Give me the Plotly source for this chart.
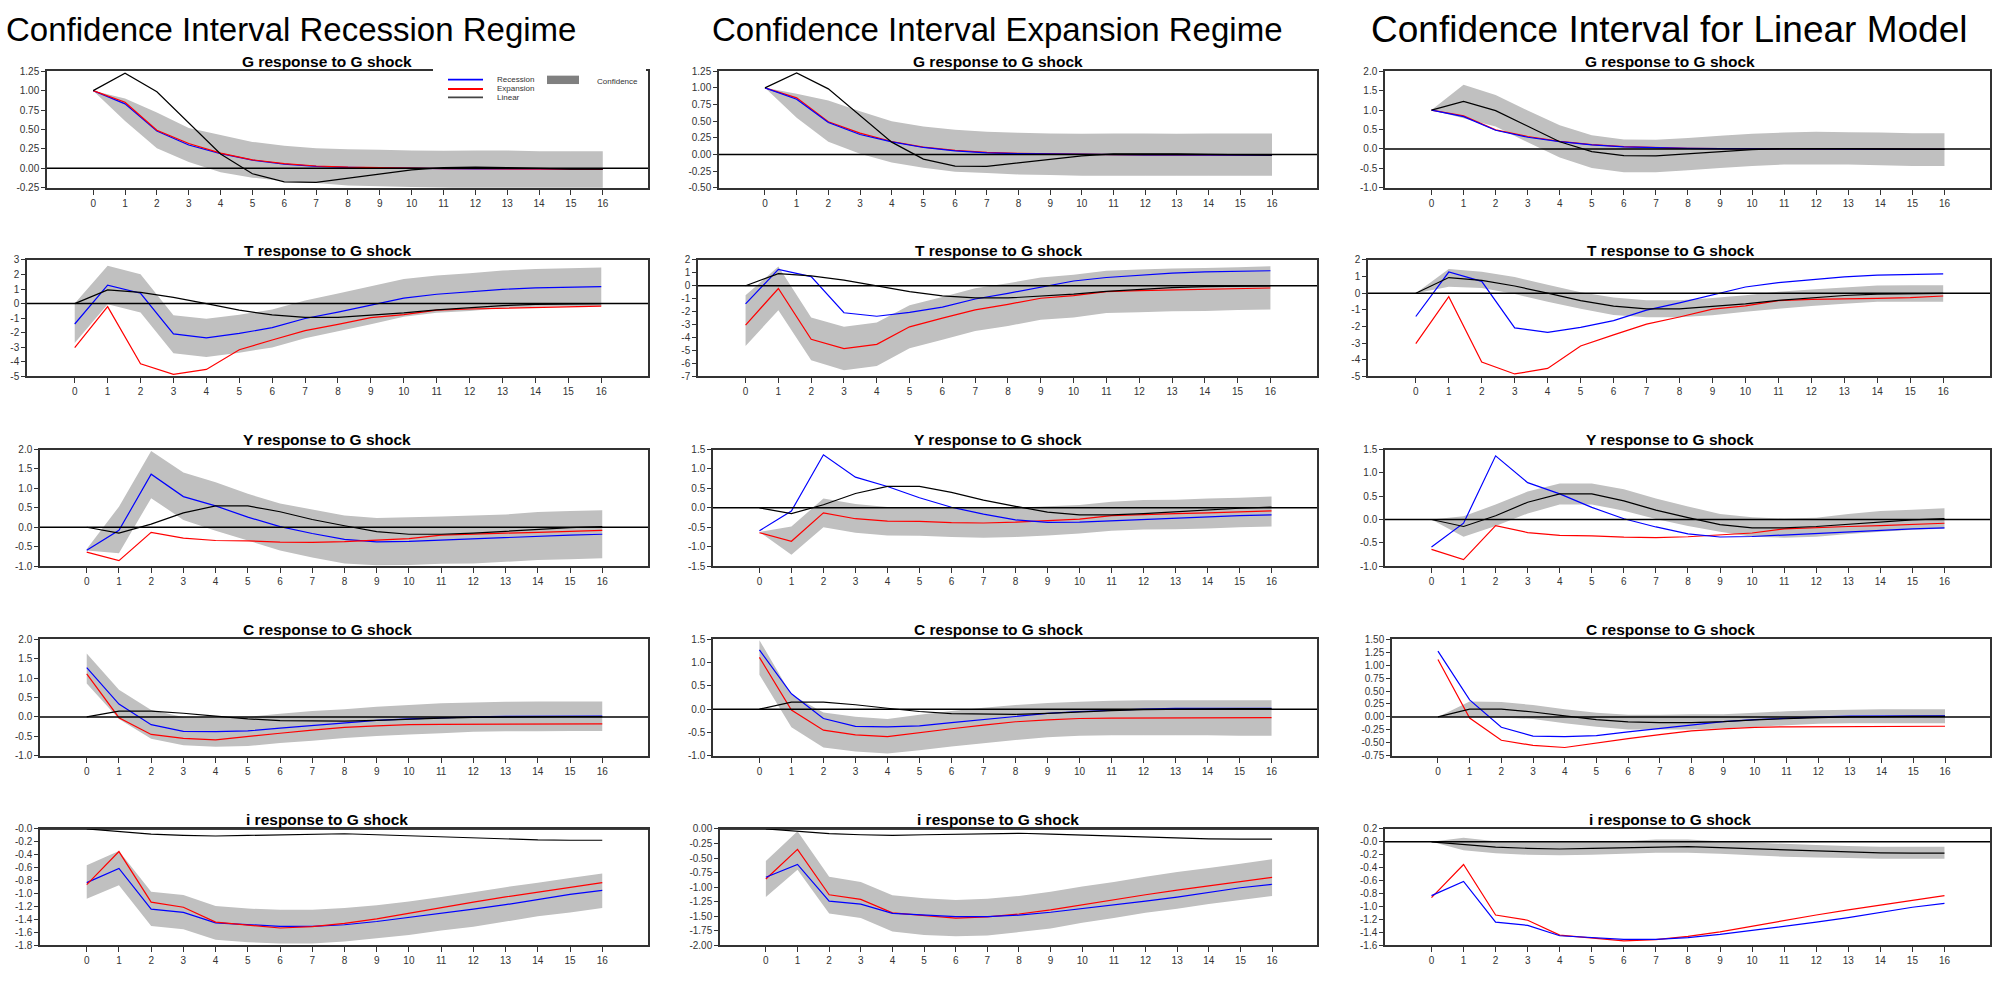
import plotly.graph_objects as go

# ---------------- data ----------------
periods = list(range(17))

col_titles = ["Confidence Interval Recession Regime",
              "Confidence Interval Expansion Regime",
              "Confidence Interval for Linear Model"]
row_titles = ["G response to G shock", "T response to G shock", "Y response to G shock",
              "C response to G shock", "i response to G shock"]

# impulse responses (same in every column)
G_rec = [1.00, 0.83, 0.48, 0.30, 0.19, 0.105, 0.055, 0.025, 0.012, 0.005, 0.0, -0.004, -0.006, -0.006, -0.008, -0.01, -0.01]
G_exp = [1.00, 0.85, 0.49, 0.32, 0.195, 0.11, 0.06, 0.03, 0.015, 0.006, 0.0, -0.003, -0.005, -0.006, -0.008, -0.01, -0.01]
G_lin = [1.00, 1.225, 0.985, 0.58, 0.185, -0.07, -0.175, -0.18, -0.125, -0.07, -0.02, 0.01, 0.015, 0.01, 0.0, -0.01, -0.01]

T_rec = [-1.40, 1.27, 0.71, -2.08, -2.35, -2.05, -1.65, -1.02, -0.58, -0.11, 0.37, 0.64, 0.80, 0.98, 1.08, 1.13, 1.16]
T_exp = [-3.03, -0.21, -4.13, -4.85, -4.52, -3.17, -2.50, -1.86, -1.43, -0.96, -0.76, -0.45, -0.37, -0.32, -0.31, -0.27, -0.17]
T_lin = [0.0, 0.94, 0.77, 0.43, 0.0, -0.45, -0.78, -0.94, -0.94, -0.81, -0.64, -0.43, -0.27, -0.14, -0.06, -0.02, -0.01]

Y_rec = [-0.59, -0.08, 1.365, 0.79, 0.55, 0.26, 0.015, -0.16, -0.31, -0.375, -0.365, -0.33, -0.31, -0.265, -0.225, -0.20, -0.18]
Y_exp = [-0.64, -0.86, -0.13, -0.28, -0.34, -0.35, -0.38, -0.39, -0.37, -0.33, -0.29, -0.20, -0.17, -0.15, -0.13, -0.11, -0.08]
Y_lin = [0.0, -0.15, 0.08, 0.37, 0.55, 0.55, 0.40, 0.20, 0.04, -0.11, -0.18, -0.18, -0.15, -0.10, -0.05, -0.01, 0.02]

C_rec = [1.27, 0.33, -0.20, -0.37, -0.38, -0.36, -0.29, -0.22, -0.15, -0.09, -0.05, -0.02, 0.0, 0.015, 0.02, 0.02, 0.02]
C_exp = [1.11, -0.02, -0.45, -0.55, -0.59, -0.50, -0.42, -0.34, -0.27, -0.23, -0.20, -0.19, -0.19, -0.185, -0.18, -0.18, -0.18]
C_lin = [0.0, 0.15, 0.15, 0.095, 0.02, -0.05, -0.095, -0.11, -0.11, -0.09, -0.055, -0.03, -0.012, 0.0, 0.01, 0.01, 0.01]

I_rec = [-0.83, -0.61, -1.24, -1.29, -1.45, -1.48, -1.505, -1.505, -1.48, -1.43, -1.37, -1.31, -1.24, -1.17, -1.09, -1.01, -0.95]
I_exp = [-0.86, -0.35, -1.13, -1.21, -1.44, -1.49, -1.53, -1.51, -1.46, -1.39, -1.30, -1.21, -1.13, -1.05, -0.98, -0.90, -0.83]
I_lin = [0.0, -0.035, -0.08, -0.10, -0.11, -0.10, -0.09, -0.075, -0.075, -0.09, -0.105, -0.125, -0.14, -0.16, -0.17, -0.175, -0.175]

# confidence bands: column 1 around recession, column 2 around expansion, column 3 around linear
G_rec_hi = [1.00, 0.90, 0.72, 0.52, 0.43, 0.34, 0.29, 0.26, 0.245, 0.24, 0.23, 0.225, 0.23, 0.23, 0.22, 0.22, 0.22]
G_rec_lo = [1.00, 0.61, 0.26, 0.08, -0.05, -0.12, -0.165, -0.19, -0.22, -0.23, -0.24, -0.25, -0.26, -0.26, -0.26, -0.26, -0.26]
G_exp_hi = [1.00, 0.91, 0.81, 0.65, 0.50, 0.42, 0.37, 0.34, 0.325, 0.315, 0.31, 0.315, 0.315, 0.31, 0.315, 0.315, 0.315]
G_exp_lo = [1.00, 0.55, 0.19, 0.01, -0.12, -0.20, -0.26, -0.28, -0.30, -0.31, -0.32, -0.32, -0.32, -0.32, -0.32, -0.32, -0.32]
G_lin_hi = [1.00, 1.65, 1.39, 0.99, 0.61, 0.35, 0.24, 0.235, 0.28, 0.34, 0.39, 0.42, 0.44, 0.43, 0.42, 0.40, 0.40]
G_lin_lo = [1.00, 0.79, 0.58, 0.17, -0.22, -0.49, -0.60, -0.60, -0.55, -0.49, -0.44, -0.40, -0.40, -0.40, -0.42, -0.44, -0.44]

T_rec_hi = [0.0, 2.60, 2.02, -0.80, -1.04, -0.76, -0.41, 0.22, 0.70, 1.19, 1.68, 1.92, 2.09, 2.27, 2.37, 2.43, 2.47]
T_rec_lo = [-2.70, -0.04, -0.61, -3.40, -3.66, -3.37, -3.01, -2.37, -1.90, -1.41, -0.90, -0.63, -0.51, -0.31, -0.22, -0.18, -0.16]
T_exp_hi = [-0.73, 1.48, -2.44, -3.17, -2.84, -1.50, -0.86, -0.20, 0.20, 0.64, 0.86, 1.17, 1.26, 1.34, 1.37, 1.43, 1.50]
T_exp_lo = [-4.65, -1.89, -5.75, -6.52, -6.19, -4.82, -4.16, -3.50, -3.10, -2.62, -2.44, -2.11, -2.05, -1.96, -1.94, -1.87, -1.83]
T_lin_hi = [0.0, 1.45, 1.28, 0.97, 0.51, 0.05, -0.26, -0.43, -0.43, -0.29, -0.12, 0.09, 0.22, 0.34, 0.46, 0.48, 0.48]
T_lin_lo = [0.0, 0.39, 0.31, -0.05, -0.51, -0.94, -1.31, -1.45, -1.45, -1.33, -1.11, -0.94, -0.77, -0.63, -0.51, -0.51, -0.51]

Y_rec_hi = [-0.56, 0.53, 1.96, 1.41, 1.16, 0.86, 0.61, 0.46, 0.30, 0.24, 0.26, 0.28, 0.30, 0.33, 0.39, 0.42, 0.44]
Y_rec_lo = [-0.60, -0.67, 0.75, 0.19, -0.09, -0.34, -0.60, -0.78, -0.93, -0.98, -0.97, -0.94, -0.93, -0.89, -0.84, -0.82, -0.80]
Y_exp_hi = [-0.62, -0.48, 0.24, 0.10, 0.02, 0.02, -0.01, -0.01, 0.0, 0.04, 0.07, 0.16, 0.20, 0.21, 0.24, 0.26, 0.29]
Y_exp_lo = [-0.62, -1.21, -0.50, -0.64, -0.71, -0.72, -0.75, -0.77, -0.75, -0.71, -0.66, -0.59, -0.56, -0.55, -0.53, -0.50, -0.48]
Y_lin_hi = [0.0, 0.07, 0.32, 0.60, 0.77, 0.77, 0.65, 0.45, 0.28, 0.12, 0.05, 0.02, 0.04, 0.12, 0.18, 0.21, 0.24]
Y_lin_lo = [0.0, -0.37, -0.14, 0.13, 0.32, 0.32, 0.19, 0.01, -0.14, -0.26, -0.37, -0.39, -0.37, -0.31, -0.26, -0.22, -0.20]

C_rec_hi = [1.63, 0.70, 0.18, 0.0, -0.03, 0.0, 0.08, 0.15, 0.20, 0.26, 0.31, 0.35, 0.37, 0.39, 0.40, 0.40, 0.40]
C_rec_lo = [0.86, -0.05, -0.56, -0.73, -0.77, -0.75, -0.67, -0.61, -0.54, -0.49, -0.45, -0.42, -0.38, -0.37, -0.37, -0.36, -0.36]
C_exp_hi = [1.48, 0.31, -0.07, -0.16, -0.21, -0.12, -0.04, 0.03, 0.09, 0.13, 0.16, 0.18, 0.19, 0.19, 0.19, 0.19, 0.19]
C_exp_lo = [0.74, -0.39, -0.82, -0.91, -0.95, -0.88, -0.80, -0.73, -0.66, -0.60, -0.57, -0.56, -0.56, -0.56, -0.56, -0.57, -0.57]
C_lin_hi = [0.0, 0.30, 0.29, 0.23, 0.15, 0.08, 0.04, 0.04, 0.05, 0.05, 0.08, 0.11, 0.13, 0.14, 0.15, 0.15, 0.15]
C_lin_lo = [0.0, 0.0, -0.01, -0.04, -0.12, -0.19, -0.24, -0.24, -0.24, -0.22, -0.19, -0.16, -0.13, -0.12, -0.12, -0.12, -0.12]

I_rec_hi = [-0.56, -0.34, -0.97, -1.02, -1.19, -1.23, -1.25, -1.25, -1.22, -1.18, -1.12, -1.05, -0.98, -0.90, -0.83, -0.76, -0.69]
I_rec_lo = [-1.08, -0.87, -1.50, -1.55, -1.71, -1.75, -1.77, -1.77, -1.74, -1.69, -1.64, -1.57, -1.51, -1.43, -1.35, -1.29, -1.22]
I_exp_hi = [-0.55, -0.04, -0.82, -0.91, -1.14, -1.19, -1.22, -1.20, -1.15, -1.08, -0.99, -0.91, -0.82, -0.74, -0.67, -0.60, -0.52]
I_exp_lo = [-1.17, -0.70, -1.45, -1.53, -1.76, -1.82, -1.84, -1.83, -1.77, -1.71, -1.61, -1.53, -1.44, -1.37, -1.29, -1.22, -1.15]
I_lin_hi = [0.0, 0.065, 0.01, 0.0, 0.0, 0.0, 0.01, 0.035, 0.035, 0.01, -0.01, -0.03, -0.05, -0.065, -0.075, -0.075, -0.075]
I_lin_lo = [0.0, -0.13, -0.175, -0.20, -0.205, -0.20, -0.185, -0.17, -0.17, -0.185, -0.205, -0.23, -0.24, -0.25, -0.26, -0.26, -0.26]

# y tick labels (top to bottom) per panel
G_ticks = [["1.25", "1.00", "0.75", "0.50", "0.25", "0.00", "-0.25"],
           ["1.25", "1.00", "0.75", "0.50", "0.25", "0.00", "-0.25", "-0.50"],
           ["2.0", "1.5", "1.0", "0.5", "0.0", "-0.5", "-1.0"]]
T_ticks = [["3", "2", "1", "0", "-1", "-2", "-3", "-4", "-5"],
           ["2", "1", "0", "-1", "-2", "-3", "-4", "-5", "-6", "-7"],
           ["2", "1", "0", "-1", "-2", "-3", "-4", "-5"]]
Y_ticks = [["2.0", "1.5", "1.0", "0.5", "0.0", "-0.5", "-1.0"],
           ["1.5", "1.0", "0.5", "0.0", "-0.5", "-1.0", "-1.5"],
           ["1.5", "1.0", "0.5", "0.0", "-0.5", "-1.0"]]
C_ticks = [["2.0", "1.5", "1.0", "0.5", "0.0", "-0.5", "-1.0"],
           ["1.5", "1.0", "0.5", "0.0", "-0.5", "-1.0"],
           ["1.50", "1.25", "1.00", "0.75", "0.50", "0.25", "0.00", "-0.25", "-0.50", "-0.75"]]
I_ticks = [["-0.0", "-0.2", "-0.4", "-0.6", "-0.8", "-1.0", "-1.2", "-1.4", "-1.6", "-1.8"],
           ["0.00", "-0.25", "-0.50", "-0.75", "-1.00", "-1.25", "-1.50", "-1.75", "-2.00"],
           ["0.2", "-0.0", "-0.2", "-0.4", "-0.6", "-0.8", "-1.0", "-1.2", "-1.4", "-1.6"]]
x_ticks = [str(p) for p in periods]

# ---------------- assembly ----------------
lines_by_row = [(G_rec, G_exp, G_lin), (T_rec, T_exp, T_lin), (Y_rec, Y_exp, Y_lin),
                (C_rec, C_exp, C_lin), (I_rec, I_exp, I_lin)]
bands_by_row = [[(G_rec_lo, G_rec_hi), (G_exp_lo, G_exp_hi), (G_lin_lo, G_lin_hi)],
                [(T_rec_lo, T_rec_hi), (T_exp_lo, T_exp_hi), (T_lin_lo, T_lin_hi)],
                [(Y_rec_lo, Y_rec_hi), (Y_exp_lo, Y_exp_hi), (Y_lin_lo, Y_lin_hi)],
                [(C_rec_lo, C_rec_hi), (C_exp_lo, C_exp_hi), (C_lin_lo, C_lin_hi)],
                [(I_rec_lo, I_rec_hi), (I_exp_lo, I_exp_hi), (I_lin_lo, I_lin_hi)]]
ticks_by_row = [G_ticks, T_ticks, Y_ticks, C_ticks, I_ticks]

W, H = 2000, 990
FONT = "Liberation Sans, Arial, sans-serif"
BLUE, RED, BLACK, BAND = "#0000ff", "#ff0000", "#000000", "#c0c0c0"

row_top = [66, 257, 449, 641, 833]
row_h = 118
col_left = [[47, 27, 40, 40, 40], [719, 698, 713, 713, 720], [1385, 1368, 1385, 1392, 1385]]
col_right = [648, 1317, 1990]
title_cx = [327, 998, 1670]
suptitle_cx = [291, 997, 1669]
suptitle_size = [33, 33, 37]
x_range = [-1.45, 17.42]

fig = go.Figure()
layout = dict(width=W, height=H, margin=dict(l=0, r=0, t=0, b=0),
              paper_bgcolor="white", plot_bgcolor="white", showlegend=False)
shapes, annotations = [], []


def band_polys(lo, hi):
    xs, ys = [], []
    for i in range(len(periods) - 1):
        xs += [periods[i], periods[i + 1], periods[i + 1], periods[i], None]
        ys += [hi[i], hi[i + 1], lo[i + 1], lo[i], None]
    return xs, ys


for r in range(5):
    for c in range(3):
        n = r * 3 + c + 1
        xa = "x" if n == 1 else f"x{n}"
        ya = "y" if n == 1 else f"y{n}"
        lo, hi = bands_by_row[r][c]
        bx, by = band_polys(lo, hi)
        fig.add_trace(go.Scatter(x=bx, y=by, mode="lines", fill="toself", fillcolor=BAND,
                                 line=dict(width=0, color=BAND), hoverinfo="skip",
                                 xaxis=xa, yaxis=ya))
        rec, exp, lin = lines_by_row[r]
        order = [(rec, BLUE), (exp, RED)] if c == 0 else [(exp, RED), (rec, BLUE)]
        for vals, colr in order + [(lin, BLACK)]:
            fig.add_trace(go.Scatter(x=periods, y=vals, mode="lines",
                                     line=dict(color=colr, width=1.2), hoverinfo="skip",
                                     xaxis=xa, yaxis=ya))
        labels = ticks_by_row[r][c]
        vals = [float(t) for t in labels]
        y0 = 1 - (row_top[r] + row_h) / H
        y1 = 1 - row_top[r] / H
        xl = col_left[c][r] / W
        xr = col_right[c] / W
        axkey = "" if n == 1 else str(n)
        layout["xaxis" + axkey] = dict(domain=[xl, xr], range=x_range, anchor=ya,
                                       tickmode="array", tickvals=periods, ticktext=x_ticks,
                                       ticks="outside", ticklen=5, tickcolor="#333",
                                       showline=True, mirror=True, linecolor="#333", linewidth=1.5,
                                       showgrid=False, zeroline=False,
                                       tickfont=dict(family=FONT, size=10, color="#333"))
        layout["yaxis" + axkey] = dict(domain=[y0, y1], range=[min(vals), max(vals)], anchor=xa,
                                       tickmode="array", tickvals=vals, ticktext=labels,
                                       ticks="outside", ticklen=4, tickcolor="#333",
                                       showline=True, mirror=True, linecolor="#333", linewidth=1.5,
                                       showgrid=False, zeroline=False,
                                       tickfont=dict(family=FONT, size=10, color="#333"))
        shapes.append(dict(type="line", xref=f"{xa} domain", yref=ya, x0=0, x1=1, y0=0, y1=0,
                           line=dict(color=BLACK, width=1.5), layer="above"))
        annotations.append(dict(text=f"<b>{row_titles[r]}</b>", x=title_cx[c] / W,
                                y=1 - (row_top[r] - 10) / H, xref="paper", yref="paper",
                                xanchor="center", yanchor="middle", showarrow=False,
                                font=dict(family=FONT, size=15.5, color="black")))

for c in range(3):
    annotations.append(dict(text=col_titles[c], x=suptitle_cx[c] / W, y=1 - 24 / H,
                            xref="paper", yref="paper", xanchor="center", yanchor="middle",
                            showarrow=False,
                            font=dict(family=FONT, size=suptitle_size[c], color="black")))


def px(x):
    return x / W


def py(y):
    return 1 - y / H


# legend box in the first panel
shapes.append(dict(type="rect", xref="paper", yref="paper", x0=px(433), x1=px(646),
                   y0=py(98), y1=py(62), fillcolor="white", line=dict(width=0), layer="above"))
legend_items = [("Recession", BLUE, 74.5), ("Expansion", RED, 84.0), ("Linear", "#444", 92.5)]
for name, colr, yy in legend_items:
    shapes.append(dict(type="line", xref="paper", yref="paper", x0=px(448), x1=px(483),
                       y0=py(yy), y1=py(yy), line=dict(color=colr, width=1.8), layer="above"))
    annotations.append(dict(text=name, x=px(495), y=py(yy), xref="paper", yref="paper",
                            xanchor="left", yanchor="middle", showarrow=False,
                            font=dict(family=FONT, size=8, color="#333")))
shapes.append(dict(type="rect", xref="paper", yref="paper", x0=px(547), x1=px(579),
                   y0=py(79), y1=py(70.5), fillcolor="#808080", line=dict(width=0), layer="above"))
annotations.append(dict(text="Confidence", x=px(595), y=py(76), xref="paper", yref="paper",
                        xanchor="left", yanchor="middle", showarrow=False,
                        font=dict(family=FONT, size=8, color="#333")))

layout["shapes"] = shapes
layout["annotations"] = annotations
fig.update_layout(**layout)
fig.write_html("out.html")
